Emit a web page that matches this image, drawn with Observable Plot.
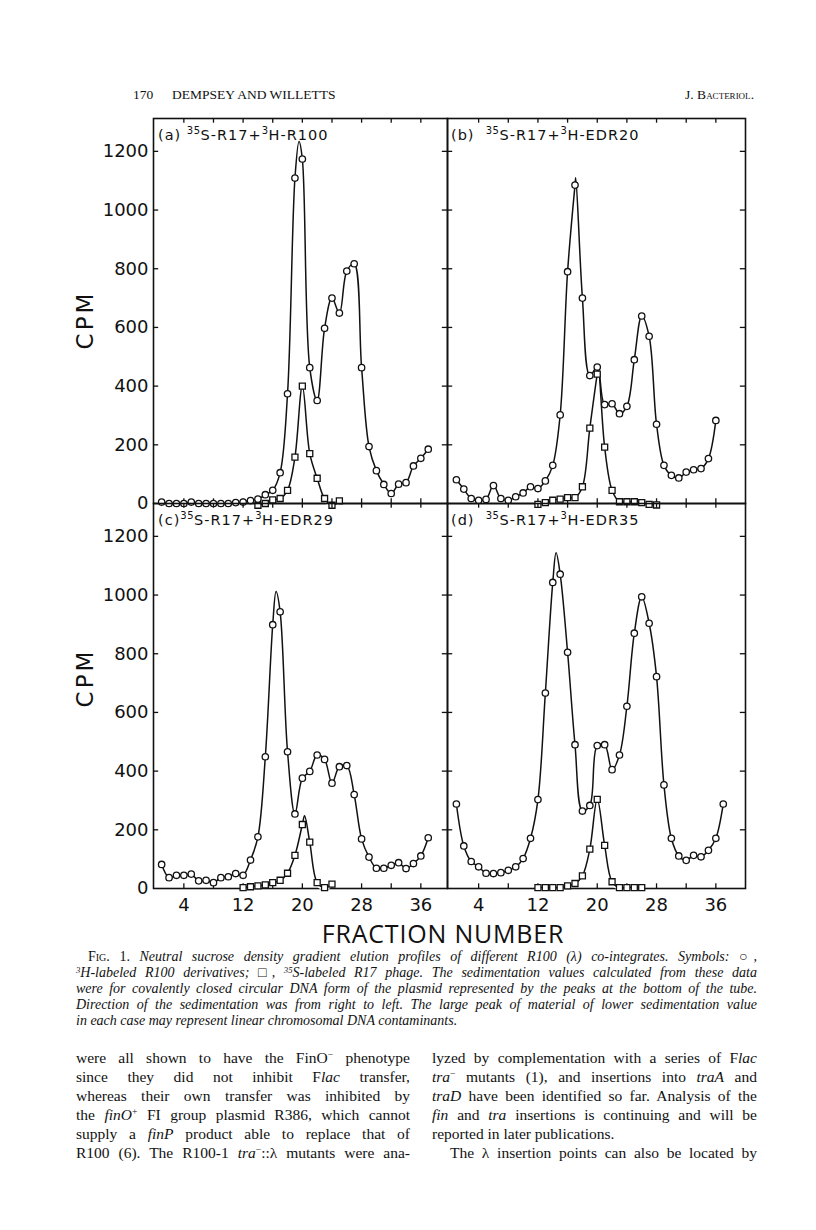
<!DOCTYPE html>
<html><head><meta charset="utf-8">
<script src="https://cdn.jsdelivr.net/npm/d3@7"></script>
<script src="https://cdn.jsdelivr.net/npm/@observablehq/plot@0.6"></script>
<style>
html,body{margin:0;padding:0;background:#fff;}
#page{position:relative;width:816px;height:1230px;overflow:hidden;background:#fff;color:#111;}
.abs{position:absolute;}
.hdr{font-family:"Liberation Serif",serif;font-size:13.5px;line-height:16px;top:87px;white-space:nowrap;}
.sc{font-variant:small-caps;}
.ttl{font-family:"DejaVu Sans",sans-serif;font-size:14.5px;letter-spacing:1px;line-height:16px;white-space:nowrap;}
.ttl sup{font-size:10px;vertical-align:0;position:relative;top:-6px;line-height:0;letter-spacing:0.5px;}
.cpm{font-family:"DejaVu Sans",sans-serif;font-size:23px;letter-spacing:3px;width:100px;height:30px;line-height:30px;text-align:center;transform:rotate(-90deg);}
.xlab{font-family:"Open Sans",sans-serif;font-size:25px;font-weight:400;letter-spacing:0.8px;width:400px;left:243px;top:918px;line-height:30px;text-align:center;white-space:nowrap;}
.cap{font-family:"Liberation Serif",serif;font-size:14px;line-height:16px;font-style:italic;left:76px;width:681px;top:949px;}
.cap .up{font-style:normal;}
.jl{text-align:justify;text-align-last:justify;white-space:nowrap;}
.ll{text-align:left;white-space:nowrap;}
sup.s{font-size:0.62em;vertical-align:0;position:relative;top:-0.5em;line-height:0;}
.body{font-family:"Liberation Serif",serif;font-size:15.5px;line-height:19px;top:1048px;}
</style></head>
<body><div id="page">
<div class="abs hdr" style="left:133px">170</div>
<div class="abs hdr" style="left:172px">DEMPSEY AND WILLETTS</div>
<div class="abs hdr" style="right:62px">J. B<span class="sc">acteriol</span>.</div>
</div>
<script>
// ---------------- data ----------------
const fractionTicks = [4, 12, 20, 28, 36];
const fractionMinorTicks = [4, 8, 12, 16, 20, 24, 28, 32, 36];
const cpmTicks = [0, 200, 400, 600, 800, 1000, 1200];

// (a) 35S-R17 + 3H-R100
const circlesA = [5,0,0,0,5,0,0,0,0,0,3,5,10,15,30,45,105,374,1109,1174,463,351,597,700,649,792,817,463,194,112,65,34,66,71,128,154,185];
const squaresA = [-6,0,12,17,45,158,400,170,86,17,-6,9];
const circleApexA = [{f:19.55, cpm:1234}];
const squareApexA = [];
// (b) 35S-R17 + 3H-EDR20
const circlesB = [81,49,17,11,14,61,17,11,23,36,57,51,77,130,302,790,1085,700,436,465,337,340,306,331,490,639,570,270,130,96,87,107,115,119,153,283];
const squaresB = [-3,3,11,15,20,20,57,257,441,192,45,6,6,6,3,-3,-5];
const circleApexB = [{f:17.1, cpm:1110}];
const squareApexB = [{f:20.15, cpm:462}];
// (c) 35S-R17 + 3H-EDR29
const circlesC = [82,37,45,45,49,26,28,20,37,40,51,45,97,176,449,899,943,466,254,376,399,455,440,359,415,419,320,169,107,69,69,79,88,68,85,111,173];
const squaresC = [3,6,9,12,20,28,52,113,218,158,20,3,15];
const circleApexC = [{f:16.45, cpm:1012}];
const squareApexC = [{f:20.3, cpm:248}];
// (d) 35S-R17 + 3H-EDR35
const circlesD = [288,145,92,74,52,51,54,62,74,102,171,303,666,1043,1071,805,490,264,283,487,490,405,455,621,870,994,904,722,353,171,111,96,113,108,130,171,288];
const squaresD = [3,3,3,3,9,17,43,134,304,147,23,3,3,3,3];
const circleApexD = [{f:14.45, cpm:1144}];
const squareApexD = [];

const panelSeries = {
  a: {circles: circlesA, circleStart: 1, squares: squaresA, squareStart: 14, cApex: circleApexA, sApex: squareApexA},
  b: {circles: circlesB, circleStart: 1, squares: squaresB, squareStart: 12, cApex: circleApexB, sApex: squareApexB},
  c: {circles: circlesC, circleStart: 1, squares: squaresC, squareStart: 12, cApex: circleApexC, sApex: squareApexC},
  d: {circles: circlesD, circleStart: 1, squares: squaresD, squareStart: 12, cApex: circleApexD, sApex: squareApexD}
};
const panelTitles = {
  a: '(a) <sup>35</sup>S-R17+<sup>3</sup>H-R100',
  b: '(b)&nbsp; <sup>35</sup>S-R17+<sup>3</sup>H-EDR20',
  c: '(c)<sup>35</sup>S-R17+<sup>3</sup>H-EDR29',
  d: '(d)&nbsp; <sup>35</sup>S-R17+<sup>3</sup>H-EDR35'
};

// ---------------- layout ----------------
const YMAX = 1312, PH = 385;
const layout = {
  a: {left:153, top:118, w:294, xd:[-0.1, 39.6], yAxis:true,  xAxis:false, m:[4,4,4,62], tx:158, ty:127},
  b: {left:447, top:118, w:298, xd:[-0.2, 40.0], yAxis:false, xAxis:false, m:[4,6,4,4],  tx:451, ty:127},
  c: {left:153, top:503, w:294, xd:[-0.1, 39.6], yAxis:true,  xAxis:true,  m:[4,4,34,62], tx:158, ty:512},
  d: {left:447, top:503, w:298, xd:[-0.2, 40.0], yAxis:false, xAxis:true,  m:[4,6,34,4],  tx:451, ty:512}
};

const page = document.getElementById("page");
const rows = (start, vals) => vals.map((v, i) => ({f: start + i, cpm: v}));
const withApex = (pts, apex) => [...pts, ...apex].sort((p, q) => p.f - q.f);
const INK = "#111";

for (const key of ["a", "b", "c", "d"]) {
  const L = layout[key], S = panelSeries[key];
  const [mT, mR, mB, mL] = L.m;
  const circ = rows(S.circleStart, S.circles);
  const sq = rows(S.squareStart, S.squares);
  const circLine = withApex(circ, S.cApex);
  const sqLine = withApex(sq, S.sApex);
  const x0 = L.xd[0], x1 = L.xd[1];
  const tkx = 0.7, tky = 16;
  const inner = cpmTicks.filter(v => v > 0);
  const marks = [
    Plot.frame({stroke: INK, strokeWidth: 1.6}),
    Plot.ruleY(inner, {x1: x0, x2: x0 + tkx, stroke: INK, strokeWidth: 1.3}),
    Plot.ruleY(inner, {x1: x1, x2: x1 - tkx, stroke: INK, strokeWidth: 1.3}),
    Plot.ruleX(fractionMinorTicks, {y1: 0, y2: tky, stroke: INK, strokeWidth: 1.3}),
    Plot.ruleX(fractionMinorTicks, {y1: YMAX, y2: YMAX - tky, stroke: INK, strokeWidth: 1.3}),
    Plot.line(sqLine, {x: "f", y: "cpm", curve: "catmull-rom", stroke: "white", strokeWidth: 5}),
    Plot.line(circLine, {x: "f", y: "cpm", curve: "catmull-rom", stroke: "white", strokeWidth: 5}),
    Plot.line(sqLine, {x: "f", y: "cpm", curve: "catmull-rom", stroke: INK, strokeWidth: 1.5}),
    Plot.line(circLine, {x: "f", y: "cpm", curve: "catmull-rom", stroke: INK, strokeWidth: 1.5}),
    Plot.dot(sq, {x: "f", y: "cpm", symbol: "square", r: 3.4, fill: "white", stroke: INK, strokeWidth: 1.3}),
    Plot.dot(circ, {x: "f", y: "cpm", symbol: "circle", r: 3.2, fill: "white", stroke: INK, strokeWidth: 1.3})
  ];
  if (L.yAxis) marks.push(Plot.axisY(cpmTicks, {anchor: "left", label: null, tickSize: 0, tickPadding: 5, tickFormat: d => String(d)}));
  if (L.xAxis) marks.push(Plot.axisX(fractionTicks, {anchor: "bottom", label: null, tickSize: 0, tickPadding: 10, tickFormat: d => String(d)}));
  const svg = Plot.plot({
    width: L.w + mL + mR, height: PH + mT + mB,
    marginTop: mT, marginRight: mR, marginBottom: mB, marginLeft: mL,
    x: {domain: L.xd, axis: null, label: null},
    y: {domain: [0, YMAX], axis: null, label: null},
    style: {fontFamily: "'DejaVu Sans', sans-serif", fontSize: "18px", color: INK, background: "transparent", overflow: "visible"},
    marks
  });
  const wrap = document.createElement("div");
  wrap.className = "abs";
  wrap.style.left = (L.left - mL) + "px";
  wrap.style.top = (L.top - mT) + "px";
  wrap.appendChild(svg);
  page.appendChild(wrap);
  const t = document.createElement("div");
  t.className = "abs ttl";
  t.style.left = L.tx + "px";
  t.style.top = L.ty + "px";
  t.innerHTML = panelTitles[key];
  page.appendChild(t);
}

// axis titles, caption, body text
page.insertAdjacentHTML("beforeend", `
<div class="abs cpm" style="left:35px;top:305px">CPM</div>
<div class="abs cpm" style="left:35px;top:663px">CPM</div>
<div class="abs xlab">FRACTION NUMBER</div>
<div class="abs cap">
  <div class="jl" style="padding-left:12px"><span class="up"><span class="sc">Fig.</span> 1.</span> Neutral sucrose density gradient elution profiles of different R100 (λ) co-integrates. Symbols: ○,</div>
  <div class="jl"><sup class="s">3</sup>H-labeled R100 derivatives; □, <sup class="s">35</sup>S-labeled R17 phage. The sedimentation values calculated from these data</div>
  <div class="jl">were for covalently closed circular DNA form of the plasmid represented by the peaks at the bottom of the tube.</div>
  <div class="jl">Direction of the sedimentation was from right to left. The large peak of material of lower sedimentation value</div>
  <div class="ll">in each case may represent linear chromosomal DNA contaminants.</div>
</div>
<div class="abs body" style="left:76px;width:334px">
  <div class="jl">were all shown to have the FinO<sup class="s">−</sup> phenotype</div>
  <div class="jl">since they did not inhibit F<i>lac</i> transfer,</div>
  <div class="jl">whereas their own transfer was inhibited by</div>
  <div class="jl">the <i>finO</i><sup class="s">+</sup> FI group plasmid R386, which cannot</div>
  <div class="jl">supply a <i>finP</i> product able to replace that of</div>
  <div class="jl">R100 (6). The R100-1 <i>tra</i><sup class="s">−</sup>::λ mutants were ana-</div>
</div>
<div class="abs body" style="left:432px;width:325px">
  <div class="jl">lyzed by complementation with a series of F<i>lac</i></div>
  <div class="jl"><i>tra</i><sup class="s">−</sup> mutants (1), and insertions into <i>traA</i> and</div>
  <div class="jl"><i>traD</i> have been identified so far. Analysis of the</div>
  <div class="jl"><i>fin</i> and <i>tra</i> insertions is continuing and will be</div>
  <div class="ll">reported in later publications.</div>
  <div class="jl" style="padding-left:18px">The λ insertion points can also be located by</div>
</div>
`);
</script>
</body></html>
